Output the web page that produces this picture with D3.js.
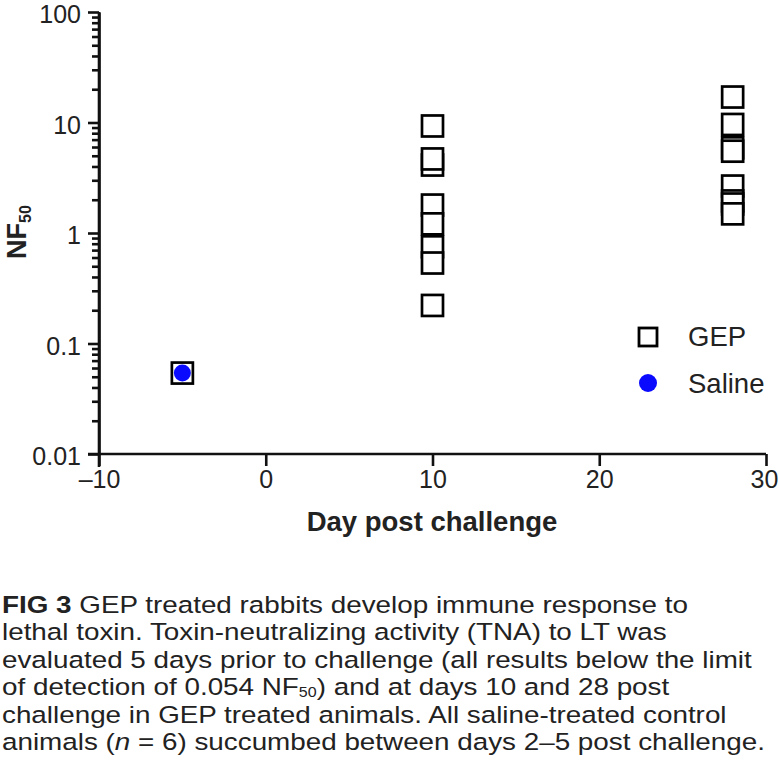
<!DOCTYPE html>
<html>
<head>
<meta charset="utf-8">
<script src="https://cdn.jsdelivr.net/npm/d3@7"></script>
<style>
  html, body { margin: 0; padding: 0; background: #fff; }
  svg { display: block; }
  text { font-family: "Liberation Sans", Arial, sans-serif; fill: #222; }
</style>
</head>
<body>
<svg id="chart" width="779" height="771"></svg>
<script>
// ---- data ----
const xTickValues = [-10, 0, 10, 20, 30];
const xTickLabels = ["–10", "0", "10", "20", "30"];
const yTickValues = [100, 10, 1, 0.1, 0.01];
const yTickLabels = ["100", "10", "1", "0.1", "0.01"];

const gepDays = [-5, 10, 10, 10, 10, 10, 10, 10, 10, 28, 28, 28, 28, 28, 28, 28, 28];
const gepValues = [0.054, 9.3, 4.12, 4.68, 1.79, 0.75, 1.21, 0.535, 0.221,
                   17.0, 9.6, 5.9, 5.5, 2.66, 1.95, 1.83, 1.49];
const salineDays = [-5];
const salineValues = [0.054];

const seriesNames = ["GEP", "Saline"];
const captionLines = [
  [{t: "FIG 3", b: true}, {t: " GEP treated rabbits develop immune response to"}],
  [{t: "lethal toxin. Toxin-neutralizing activity (TNA) to LT was"}],
  [{t: "evaluated 5 days prior to challenge (all results below the limit"}],
  [{t: "of detection of 0.054 NF"}, {t: "50", sub: true}, {t: ") and at days 10 and 28 post"}],
  [{t: "challenge in GEP treated animals. All saline-treated control"}],
  [{t: "animals ("}, {t: "n", i: true}, {t: " = 6) succumbed between days 2–5 post challenge."}]
];

// ---- layout ----
const svg = d3.select("#chart");
const x = d3.scaleLinear().domain([-10, 30]).range([99, 766]);
const y = d3.scaleLog().domain([0.01, 100]).range([454, 12]);

const axisColor = "#111";

// minor ticks
const minor = [];
for (let e = -2; e < 2; e++) for (let m = 2; m <= 9; m++) minor.push(m * Math.pow(10, e));

const gyMinor = svg.append("g").attr("transform", "translate(99,0)")
  .call(d3.axisLeft(y).tickValues(minor).tickFormat("").tickSize(7).tickSizeOuter(0));
const gy = svg.append("g").attr("transform", "translate(99,0)")
  .call(d3.axisLeft(y).tickValues(yTickValues)
    .tickFormat((d, i) => yTickLabels[i]).tickSize(11).tickSizeOuter(0).tickPadding(7));
const gx = svg.append("g").attr("transform", "translate(0,454)")
  .call(d3.axisBottom(x).tickValues(xTickValues)
    .tickFormat((d, i) => xTickLabels[i]).tickSize(12).tickSizeOuter(0).tickPadding(4));

[gyMinor, gy, gx].forEach(g => {
  g.selectAll("path.domain").attr("stroke", axisColor).attr("stroke-width", 2.6);
  g.selectAll("line").attr("stroke", axisColor).attr("stroke-width", 2.6);
  g.selectAll("text").attr("font-size", 25).attr("fill", "#222")
    .attr("font-family", "Liberation Sans, Arial, sans-serif");
});
gy.selectAll(".tick text").attr("dy", "0.43em");
gx.selectAll(".tick text").filter(d => d === 30).attr("dx", -2);
gy.select("path.domain").attr("d", "M0,12V467");
gx.select("path.domain").attr("d", "M88,0H766");

// axis titles
svg.append("text").attr("x", 432).attr("y", 531).attr("text-anchor", "middle")
  .attr("font-size", 27.5).attr("font-weight", "bold").text("Day post challenge");

const yt = svg.append("text").attr("transform", "translate(26,232) rotate(-90)")
  .attr("text-anchor", "middle").attr("font-size", 27).attr("font-weight", "bold");
yt.append("tspan").text("NF");
yt.append("tspan").attr("font-size", 16).attr("dy", 5).text("50");

// GEP squares
const sq = 21;
svg.append("g").selectAll("rect").data(gepValues).join("rect")
  .attr("x", (d, i) => x(gepDays[i]) - sq / 2)
  .attr("y", d => y(d) - sq / 2)
  .attr("width", sq).attr("height", sq)
  .attr("fill", "#fff").attr("stroke", "#000").attr("stroke-width", 2.7);

// Saline circles
svg.append("g").selectAll("circle").data(salineValues).join("circle")
  .attr("cx", (d, i) => x(salineDays[i])).attr("cy", d => y(d))
  .attr("r", 8.5).attr("fill", "#0a0aff");

// legend
const lg = svg.append("g");
lg.append("rect").attr("x", 639).attr("y", 328).attr("width", 18).attr("height", 18)
  .attr("fill", "#fff").attr("stroke", "#000").attr("stroke-width", 2.8);
lg.append("circle").attr("cx", 648).attr("cy", 383).attr("r", 9).attr("fill", "#0a0aff");
lg.append("text").attr("x", 688).attr("y", 346).attr("font-size", 27.5).text(seriesNames[0]);
lg.append("text").attr("x", 688).attr("y", 393).attr("font-size", 27.5).text(seriesNames[1]);

// caption
const cap = svg.append("g").attr("transform", "translate(2,0) scale(1.145,1)");
captionLines.forEach((line, li) => {
  const t = cap.append("text").attr("x", 0).attr("y", 613 + li * 27.4).attr("font-size", 24.3);
  line.forEach((seg, k) => {
    const s = t.append("tspan").text(seg.t);
    if (seg.b) s.attr("font-weight", "bold");
    if (seg.i) s.attr("font-style", "italic");
    if (seg.sub) s.attr("font-size", 14).attr("dy", 2);
    if (k > 0 && line[k - 1].sub) s.attr("dy", -2);
  });
});
</script>
</body>
</html>
